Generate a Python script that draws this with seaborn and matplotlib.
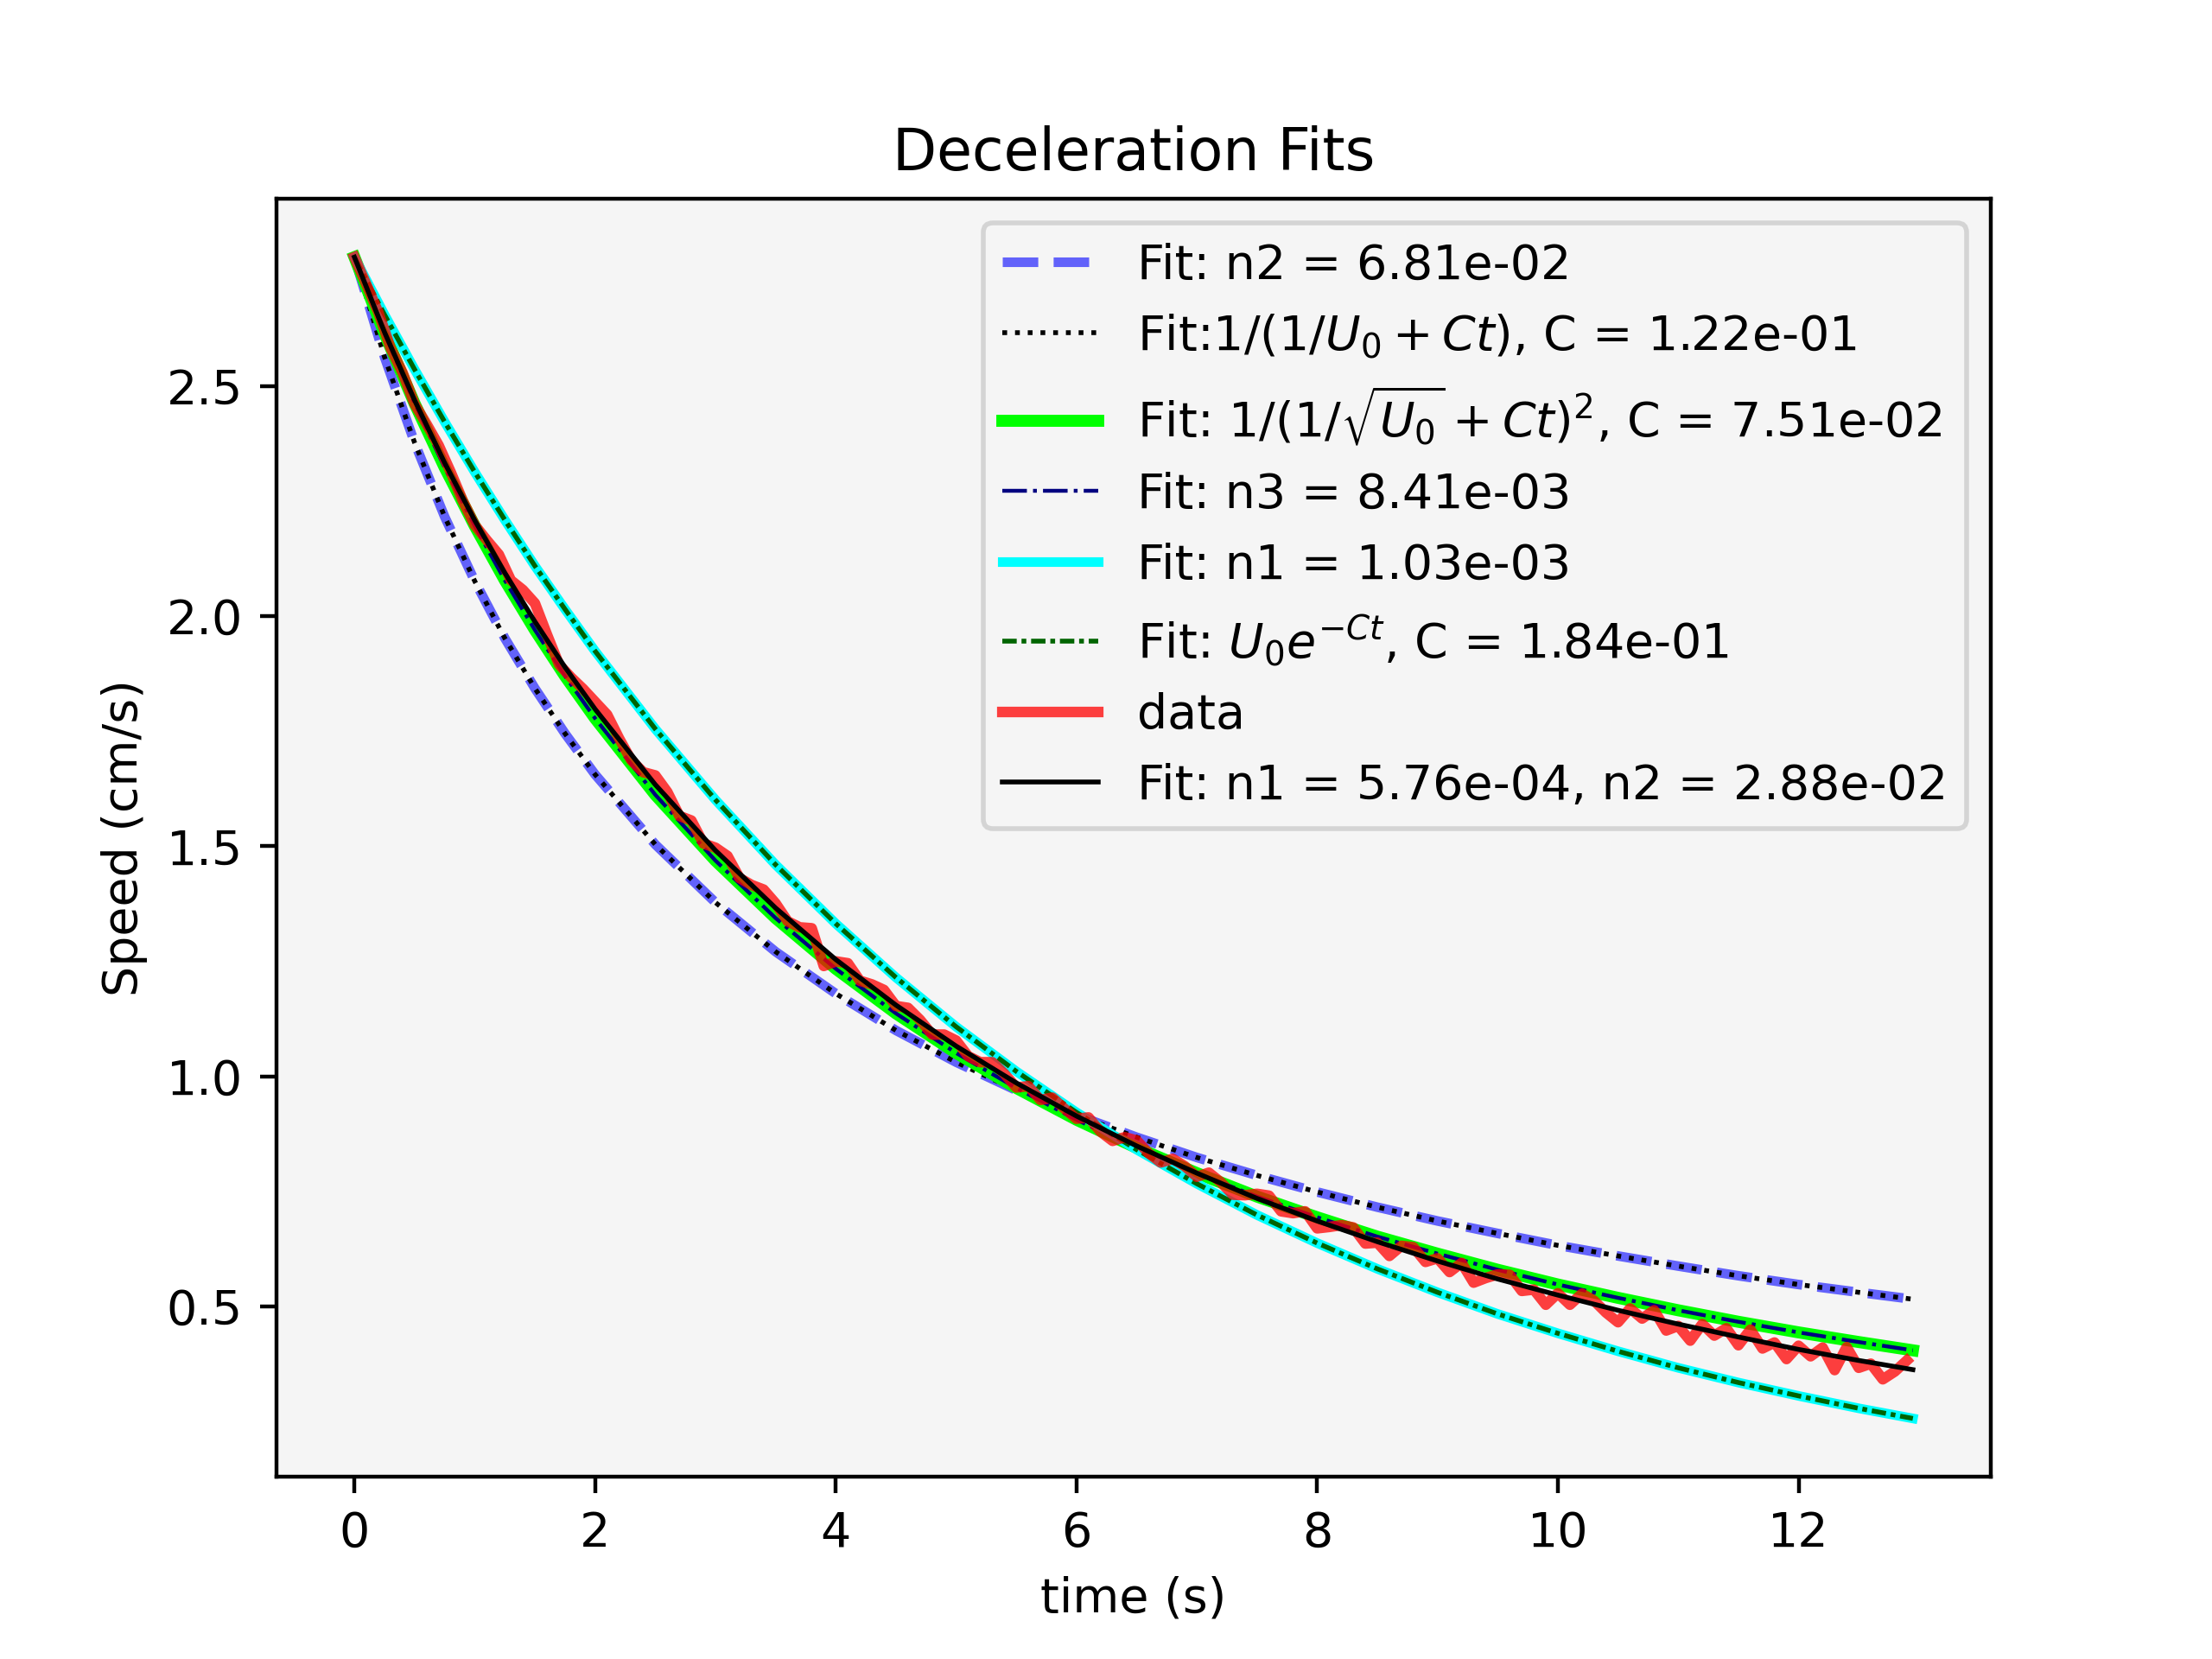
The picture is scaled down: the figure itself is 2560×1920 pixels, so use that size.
import matplotlib
matplotlib.use('Agg')
import matplotlib.pyplot as plt
import seaborn as sns

# time grid of the fitted curves (s)
fit_t = [0.0, 0.25, 0.5, 0.75, 1.0, 1.25, 1.5, 1.75, 2.0, 2.5, 3.0, 3.5, 4.0,
         4.5, 5.0, 5.5, 6.0, 6.5, 7.0, 7.5, 8.0, 8.5, 9.0, 9.5, 10.0, 10.5,
         11.0, 11.5, 12.0, 12.5, 12.95]

# 1/(1/U0 + Ct) fit, also the n2 fit
speed_inv = [2.780, 2.563, 2.377, 2.216, 2.076, 1.952, 1.843, 1.745, 1.656,
             1.504, 1.378, 1.271, 1.180, 1.100, 1.031, 0.970, 0.916, 0.868,
             0.824, 0.785, 0.749, 0.716, 0.686, 0.659, 0.633, 0.610, 0.588,
             0.567, 0.548, 0.531, 0.516]

# 1/(1/sqrt(U0) + Ct)^2 fit, also the n3 fit
speed_sqrt = [2.780, 2.614, 2.462, 2.323, 2.196, 2.078, 1.970, 1.870, 1.778,
              1.612, 1.469, 1.344, 1.234, 1.137, 1.051, 0.975, 0.906, 0.845,
              0.790, 0.739, 0.694, 0.652, 0.615, 0.580, 0.548, 0.519, 0.492,
              0.467, 0.444, 0.423, 0.405]

# U0 exp(-Ct) fit, also the n1 fit
speed_exp = [2.780, 2.655, 2.536, 2.422, 2.313, 2.209, 2.109, 2.015, 1.924,
             1.755, 1.601, 1.460, 1.332, 1.215, 1.108, 1.011, 0.922, 0.841,
             0.767, 0.699, 0.638, 0.582, 0.531, 0.484, 0.442, 0.403, 0.367,
             0.335, 0.306, 0.279, 0.257]

# combined n1 + n2 fit
speed_n1n2 = [2.780, 2.617, 2.469, 2.333, 2.208, 2.094, 1.988, 1.889, 1.798,
              1.634, 1.491, 1.366, 1.254, 1.155, 1.066, 0.986, 0.914, 0.849,
              0.790, 0.735, 0.686, 0.641, 0.599, 0.560, 0.525, 0.492, 0.462,
              0.434, 0.407, 0.383, 0.363]

# measured speed
data_t = [0.0, 0.1, 0.2, 0.3, 0.4, 0.5, 0.6, 0.7, 0.8, 0.9,
          1.0, 1.1, 1.2, 1.3, 1.4, 1.5, 1.6, 1.7, 1.8, 1.9,
          2.0, 2.1, 2.2, 2.3, 2.4, 2.5, 2.6, 2.7, 2.8, 2.9,
          3.0, 3.1, 3.2, 3.3, 3.4, 3.5, 3.6, 3.7, 3.8, 3.9,
          4.0, 4.1, 4.2, 4.3, 4.4, 4.5, 4.6, 4.7, 4.8, 4.9,
          5.0, 5.1, 5.2, 5.3, 5.4, 5.5, 5.6, 5.7, 5.8, 5.9,
          6.0, 6.1, 6.2, 6.3, 6.4, 6.5, 6.6, 6.7, 6.8, 6.9,
          7.0, 7.1, 7.2, 7.3, 7.4, 7.5, 7.6, 7.7, 7.8, 7.9,
          8.0, 8.1, 8.2, 8.3, 8.4, 8.5, 8.6, 8.7, 8.8, 8.9,
          9.0, 9.1, 9.2, 9.3, 9.4, 9.5, 9.6, 9.7, 9.8, 9.9,
          10.0, 10.1, 10.2, 10.3, 10.4, 10.5, 10.6, 10.7, 10.8, 10.9,
          11.0, 11.1, 11.2, 11.3, 11.4, 11.5, 11.6, 11.7, 11.8, 11.9,
          12.0, 12.1, 12.2, 12.3, 12.4, 12.5, 12.6, 12.7, 12.8, 12.9]
data_speed = [2.780, 2.720, 2.659, 2.583, 2.529, 2.461, 2.417, 2.371, 2.313, 2.251,
              2.198, 2.165, 2.134, 2.078, 2.057, 2.028, 1.960, 1.895, 1.867, 1.842,
              1.814, 1.786, 1.734, 1.687, 1.661, 1.654, 1.618, 1.566, 1.556, 1.506,
              1.497, 1.479, 1.431, 1.416, 1.406, 1.376, 1.337, 1.324, 1.322, 1.240,
              1.250, 1.246, 1.208, 1.200, 1.188, 1.153, 1.149, 1.123, 1.091, 1.091,
              1.078, 1.044, 1.031, 1.031, 1.006, 0.976, 0.979, 0.949, 0.954, 0.930,
              0.908, 0.911, 0.880, 0.860, 0.868, 0.861, 0.833, 0.813, 0.821, 0.805,
              0.782, 0.791, 0.770, 0.743, 0.742, 0.745, 0.741, 0.707, 0.703, 0.707,
              0.670, 0.673, 0.677, 0.672, 0.637, 0.639, 0.610, 0.632, 0.629, 0.597,
              0.605, 0.575, 0.595, 0.552, 0.562, 0.570, 0.569, 0.534, 0.537, 0.504,
              0.529, 0.504, 0.528, 0.513, 0.487, 0.466, 0.496, 0.474, 0.492, 0.448,
              0.458, 0.426, 0.462, 0.437, 0.453, 0.416, 0.450, 0.409, 0.422, 0.386,
              0.415, 0.392, 0.411, 0.362, 0.412, 0.367, 0.376, 0.342, 0.359, 0.383]

bg = '#f5f5f5'

fig, ax = plt.subplots(figsize=(6.4, 4.8))
ax.set_facecolor(bg)

common = dict(ax=ax, estimator=None, sort=False)

sns.lineplot(x=fit_t, y=speed_inv, color='b', alpha=0.6, linestyle='--', lw=2,
             label='Fit: n2 = 6.81e-02', **common)
sns.lineplot(x=fit_t, y=speed_inv, color='k', linestyle=':', lw=1,
             label='Fit:1/(1/$U_0 + Ct$), C = 1.22e-01', **common)
sns.lineplot(x=fit_t, y=speed_sqrt, color='lime', linestyle='-', lw=2.5,
             label=r'Fit: 1/(1/$\sqrt{U_0} + Ct)^2$, C = 7.51e-02', **common)
sns.lineplot(x=fit_t, y=speed_sqrt, color='navy', linestyle='-.', lw=0.8,
             label='Fit: n3 = 8.41e-03', **common)
sns.lineplot(x=fit_t, y=speed_exp, color='cyan', linestyle='-', lw=2,
             label='Fit: n1 = 1.03e-03', **common)
sns.lineplot(x=fit_t, y=speed_exp, color='darkgreen', linestyle=(0, (3, 1, 1, 1)), lw=1,
             label='Fit: $U_0e^{-Ct}$, C = 1.84e-01', **common)
sns.lineplot(x=data_t, y=data_speed, color='r', alpha=0.75, linestyle='-', lw=2.2,
             label='data', **common)
sns.lineplot(x=fit_t, y=speed_n1n2, color='k', linestyle='-', lw=1,
             label='Fit: n1 = 5.76e-04, n2 = 2.88e-02', **common)

ax.set_title('Deceleration Fits')
ax.set_xlabel('time (s)')
ax.set_ylabel('Speed (cm/s)')
ax.legend(loc='upper right', facecolor=bg)

fig.savefig('out.png', dpi=400)
